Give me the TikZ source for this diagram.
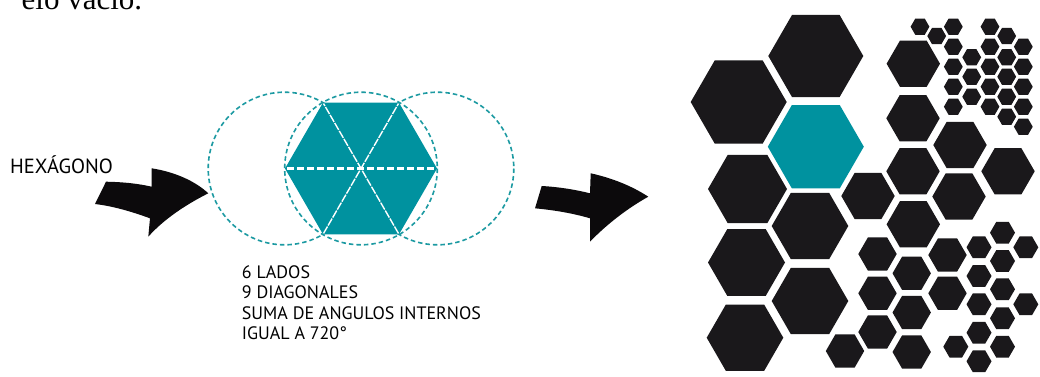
\documentclass[tikz,border=0pt]{standalone}
\usepackage{fontspec}
\setmainfont{Liberation Serif}
\newfontfamily\lblfont{PT Sans}
\definecolor{tealfill}{HTML}{00929F}
\definecolor{tealline}{HTML}{1C9AA2}
\definecolor{hexblack}{HTML}{1A181B}
\definecolor{arrowblack}{HTML}{0C0A0C}
\newcommand\hx[4][hexblack]{\fill[#1] (#2,#3) +(0:#4) -- +(60:#4) -- +(120:#4) -- +(180:#4) -- +(240:#4) -- +(300:#4) -- cycle;}
\begin{document}
\begin{tikzpicture}[x=1pt,y=-1pt,
  lbl/.style={anchor=base west, inner sep=0pt, font=\lblfont\fontsize{18}{20}\selectfont, text=black},
  dashcircle/.style={draw=tealline, line width=1.6pt, dash pattern=on 4.5pt off 3pt},
  whitedash/.style={draw=white, line width=2.4pt, dash pattern=on 7pt off 3pt},
  whitediag/.style={draw=white, line width=1.4pt, dash pattern=on 8pt off 1.2pt}]
\useasboundingbox (0,0) rectangle (1040,376);
\clip (0,0) rectangle (1040,376);
\fill[white] (0,0) rectangle (1040,376);

% clipped body text at top
\node[anchor=base west, inner sep=0pt, font=\fontsize{31}{31}\selectfont] (toptext) at (21.5,9.5) {elo vacío.};

% label
\node[lbl, font=\lblfont\fontsize{20.5}{22}\selectfont] (hexlabel) at (10,173.3) {HEXÁGONO};

% first arrow
\fill[arrowblack] (106,181.7) .. controls (125,182) and (140,184) .. (151.7,186.7)
  -- (151.7,168.3) .. controls (175,172) and (195,181) .. (208.3,193.3)
  .. controls (185,205) and (163,220) .. (148.3,236.7)
  -- (150,218.3) .. controls (130,211) and (112,206) .. (95,204) -- cycle;

% construction circles
\coordinate (cl) at (284.5,168.5);
\coordinate (cm) at (361,168.5);
\coordinate (cr) at (437.5,168.5);
\draw[dashcircle] (cl) circle (76.3);
\draw[dashcircle] (cr) circle (76.3);
\draw[dashcircle] (cm) circle (76.3);

% hexagon
\fill[tealfill] (cm) +(0:76) -- +(60:76) -- +(120:76) -- +(180:76) -- +(240:76) -- +(300:76) -- cycle;
\draw[whitedash] (cm) ++(180:74) -- ++(0:148);
\draw[whitediag] (cm) ++(120:75) -- ++(300:150);
\draw[whitediag] (cm) ++(60:75) -- ++(240:150);

% list
\node[lbl] (l1) at (241.7,278.3) {6 LADOS};
\node[lbl] (l2) at (241.7,298.8) {9 DIAGONALES};
\node[lbl] (l3) at (241.7,319.3) {SUMA DE ANGULOS INTERNOS};
\node[lbl] (l4) at (241.7,339.8) {IGUAL A 720°};

% second arrow
\fill[arrowblack] (541.7,186) .. controls (560,187) and (577,190) .. (590,193.3)
  -- (590.7,173.3) .. controls (612,178) and (632,186) .. (648.3,196.7)
  .. controls (628,208) and (607,224) .. (590,241.7)
  -- (590,218.3) .. controls (572,213) and (553,210) .. (535,208.3) -- cycle;

% big hexagons
\hx{815.8}{56}{47.5}
\hx{738.7}{102}{48}
\hx[tealfill]{815.8}{146.7}{48}
\hx{747.5}{189}{39.5}
\hx{810}{226}{38.3}
\hx{746.5}{262.5}{38.5}
\hx{810}{301}{38.3}
\hx{745}{337.7}{38.3}
% medium hexagons
\hx{913.3}{63.7}{26.7}
\hx{913}{118.3}{26.7}
\hx{960}{145}{26.7}
\hx{913}{171.3}{26.7}
\hx{1008}{171.3}{26.7}
\hx{868}{196}{26.7}
\hx{959}{196.5}{26.7}
\hx{913.3}{224.3}{26.7}
% medium-small hexagons
\hx{877.5}{254}{19.2}
\hx{911.7}{273.3}{19.2}
\hx{877.5}{293.3}{19.2}
\hx{911.7}{312.5}{19.2}
\hx{877.5}{332}{19.2}
\hx{911.7}{352}{19.2}
\hx{845}{351}{19.2}
\hx{947.5}{255}{19.2}
\hx{947.5}{293.3}{19.2}
% small hexagons (lower right)
\foreach \px/\py in {1002.5/232.7, 979/247.3, 1025.8/247.3, 1002.5/261, 979/276, 1002.5/289.3, 979/304.3, 1025.8/304.3, 1002.5/318.3, 979/332.7, 1002.5/346.7, 955.8/346.7, 979/361.3}
  {\hx{\px}{\py}{12.5}}
% tiny hexagons (upper right)
\foreach \px/\py in {920/26.7, 936.7/36, 953.3/26.7, 990/26.7, 1006.7/36, 953.3/46.7, 990/46.7, 1023.3/46.7, 971.7/57.3, 1006.7/57.3, 953.3/66.7, 990/66.7, 1023.3/66.7, 971.7/76.7, 1006.7/76.7, 953.3/86.7, 990/86.7, 1023.3/86.7, 971.7/96.7, 1006.7/96.7, 953.3/106.7, 990/106.7, 1023.3/106.7, 1006.7/116.7, 1023.3/126.7}
  {\hx{\px}{\py}{9.4}}
\end{tikzpicture}
\end{document}
